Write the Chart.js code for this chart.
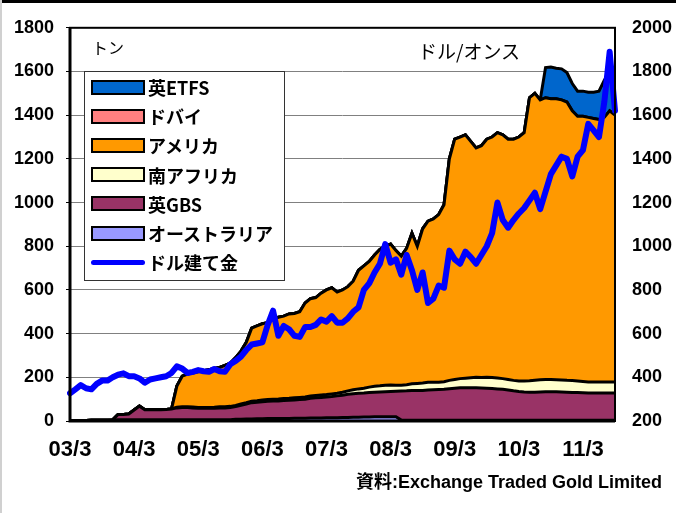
<!DOCTYPE html>
<html>
<head>
<meta charset="utf-8">
<script src="https://cdn.jsdelivr.net/npm/chart.js@4"></script>
<style>
  body { margin: 0; background: #fff; }
  #wrap { position: relative; width: 676px; height: 513px; overflow: hidden; }
  #topbar { position: absolute; left: 0; top: 0; width: 676px; height: 3px; background: #000; }
  #leftbar { position: absolute; left: 0; top: 0; width: 2px; height: 513px; background: #d0d0d0; }
  .note { position: absolute; font-family: "Noto Sans CJK JP", sans-serif; color: #000; white-space: nowrap; }
  #legend { position: absolute; left: 84px; top: 71px; width: 199px; height: 208px; border: 1px solid #333; background: #fff;
            font-family: "Noto Sans CJK JP", sans-serif; font-weight: bold; font-size: 18px; }
  .item { position: absolute; left: 6px; height: 22px; display: flex; align-items: center; }
  .swatch { width: 50px; height: 11px; border: 2px solid #000; margin-right: 3px; }
  .lineswatch { width: 54px; height: 5px; border-radius: 3px; margin-right: 3px; }
</style>
</head>
<body>
<div id="wrap">
  <canvas id="chart" width="676" height="513"></canvas>
  <div id="legend"></div>
  <div class="note" style="left:92px; top:35px; font-size:16px;">トン</div>
  <div class="note" style="left:418px; top:37px; font-size:19px;">ドル/オンス</div>
  <div class="note" style="right:14px; top:467px; font-size:18px; font-weight:bold; font-family:'Liberation Sans','Noto Sans CJK JP',sans-serif;">資料:Exchange Traded Gold Limited</div>
  <div id="topbar"></div>
  <div id="leftbar"></div>
</div>
<script>
// 月次データ 2003/3 〜 2011/9 (トン, ドル/オンス)
const tickLabels = ['03/3', '04/3', '05/3', '06/3', '07/3', '08/3', '09/3', '10/3', '11/3'];

const australia = [
    1, 1, 2, 2, 3, 3, 4, 4, 5, 6,
    6, 6, 6, 6, 6, 6, 6, 6, 6, 6,
    6, 6, 6, 6, 6, 6, 6, 6, 6, 6,
    6, 8, 8, 9, 9, 10, 10, 11, 11, 12,
    12, 12, 13, 13, 13, 14, 14, 14, 15, 15,
    15, 16, 16, 17, 17, 18, 18, 20, 20, 20,
    20, 20, 4, 4, 4, 4, 4, 4, 4, 4,
    4, 4, 4, 4, 4, 4, 4, 4, 4, 4,
    4, 4, 4, 4, 4, 4, 4, 4, 4, 4,
    4, 4, 4, 4, 4, 4, 4, 4, 4, 4,
    4, 4, 4
];
const ukGBS = [
    0, 0, 0, 0, 0, 0, 0, 0, 0, 24,
    24, 26, 44, 62, 46, 46, 46, 46, 47, 49,
    54, 56, 56, 54, 52, 52, 52, 52, 54, 54,
    56, 58, 64, 69, 75, 76, 78, 79, 81, 80,
    82, 83, 83, 85, 87, 90, 92, 94, 95, 97,
    100, 102, 106, 108, 110, 110, 112, 112, 113, 114,
    115, 116, 133, 134, 136, 136, 136, 138, 139, 140,
    141, 144, 146, 148, 148, 148, 148, 147, 146, 145,
    143, 141, 138, 134, 131, 129, 128, 128, 129, 130,
    130, 130, 129, 128, 127, 126, 125, 124, 124, 124,
    124, 124, 124
];
const southAfrica = [
    0, 0, 0, 0, 0, 0, 0, 0, 0, 0,
    0, 0, 0, 0, 0, 0, 0, 0, 0, 0,
    3, 3, 3, 4, 4, 4, 4, 5, 5, 5,
    5, 5, 6, 6, 7, 7, 8, 8, 8, 9,
    9, 9, 10, 10, 10, 10, 11, 11, 11, 12,
    12, 14, 16, 18, 20, 22, 25, 27, 28, 30,
    30, 28, 27, 28, 30, 32, 34, 35, 34, 33,
    35, 38, 40, 42, 44, 46, 48, 48, 50, 50,
    50, 49, 48, 48, 48, 50, 52, 55, 56, 56,
    56, 55, 55, 54, 54, 53, 52, 51, 50, 50,
    50, 50, 50
];
const usa = [
    0, 0, 0, 0, 0, 0, 0, 0, 0, 0,
    0, 0, 0, 0, 0, 0, 0, 0, 0, 0,
    97, 140, 150, 156, 163, 168, 173, 177, 180, 190,
    198, 219, 242, 276, 334, 342, 349, 352, 365, 374,
    377, 386, 386, 392, 430, 446, 448, 466, 479, 486,
    463, 468, 477, 497, 543, 560, 575, 601, 624, 636,
    645, 616, 591, 624, 690, 628, 706, 738, 748, 768,
    810, 1014, 1100, 1106, 1114, 1082, 1050, 1061, 1090, 1101,
    1123, 1116, 1100, 1104, 1117, 1137, 1296, 1313, 1281, 1290,
    1285, 1286, 1282, 1274, 1235, 1212, 1214, 1211, 1207, 1202,
    1212, 1242, 1222
];
const dubai = [
    0, 0, 0, 0, 0, 0, 0, 0, 0, 0,
    0, 0, 0, 0, 0, 0, 0, 0, 0, 0,
    0, 0, 0, 0, 0, 0, 0, 0, 0, 0,
    0, 0, 0, 0, 0, 0, 0, 0, 0, 0,
    0, 0, 0, 0, 0, 0, 0, 0, 0, 0,
    0, 0, 0, 0, 0, 0, 0, 0, 0, 0,
    0, 0, 0, 0, 0, 0, 0, 0, 0, 0,
    0, 0, 0, 0, 0, 0, 0, 0, 0, 0,
    0, 0, 0, 0, 0, 0, 0, 0, 0, 0,
    0, 0, 0, 0, 0, 0, 0, 0, 0, 0,
    0, 0, 0
];
const ukETFS = [
    0, 0, 0, 0, 0, 0, 0, 0, 0, 0,
    0, 0, 0, 0, 0, 0, 0, 0, 0, 0,
    0, 0, 0, 0, 0, 0, 0, 0, 0, 0,
    0, 0, 0, 0, 0, 0, 0, 0, 0, 0,
    0, 0, 0, 0, 0, 0, 0, 0, 0, 0,
    0, 0, 0, 0, 0, 0, 0, 0, 0, 0,
    0, 0, 0, 0, 0, 0, 0, 0, 0, 0,
    0, 0, 0, 0, 0, 0, 0, 0, 0, 0,
    0, 0, 0, 0, 0, 0, 0, 0, 0, 138,
    145, 140, 142, 135, 125, 115, 115, 115, 120, 130,
    170, 180, 200
];
const goldUSD = [
    327, 345, 364, 350, 345, 370, 385, 385, 400, 412,
    418, 405, 405, 395, 375, 390, 395, 400, 405, 420,
    450, 440, 420, 425, 433, 428, 425, 438, 428, 425,
    460, 475, 495, 525, 550, 555, 560, 640, 705, 590,
    635, 620, 590, 585, 630, 630, 640, 665, 655, 680,
    650, 650, 670, 700, 720, 800, 830, 880, 920, 1010,
    925, 940, 870, 960, 890, 800, 880, 740, 760, 820,
    810, 980, 940, 920, 975, 950, 920, 960, 1000, 1060,
    1200, 1120, 1085, 1120, 1150, 1175, 1210, 1245, 1170, 1250,
    1330, 1370, 1410, 1400, 1320, 1410, 1440, 1560, 1530, 1500,
    1660, 1890, 1620
];

// 月ラベル (03/3, 03/4, ...)
const months = [];
for (let i = 0; i < goldUSD.length; i++) {
    const t = 2003 * 12 + 2 + i;
    const yy = String(Math.floor(t / 12) % 100).padStart(2, '0');
    months.push(yy + '/' + (t % 12 + 1));
}

const series = [
    { label: 'オーストラリア', data: australia, color: '#9999FF' },
    { label: '英GBS', data: ukGBS, color: '#993366' },
    { label: '南アフリカ', data: southAfrica, color: '#FFFFCC' },
    { label: 'アメリカ', data: usa, color: '#FF9900' },
    { label: 'ドバイ', data: dubai, color: '#FF8080' },
    { label: '英ETFS', data: ukETFS, color: '#0066CC' }
];
const goldColor = '#0000FF';

const datasets = series.map((s, i) => ({
    label: s.label,
    data: s.data,
    backgroundColor: s.color,
    borderColor: '#000',
    borderWidth: 3,
    pointRadius: 0,
    fill: i === 0 ? 'origin' : '-1',
    yAxisID: 'y',
    order: 1
}));
datasets.push({
    label: 'ドル建て金',
    data: goldUSD,
    borderColor: goldColor,
    borderWidth: 6,
    borderJoinStyle: 'round',
    borderCapStyle: 'round',
    pointRadius: 0,
    fill: false,
    yAxisID: 'y2',
    order: 0
});

// 凡例 (上から 英ETFS ... オーストラリア, ドル建て金)
const legend = document.getElementById('legend');
const legendItems = series.slice().reverse();
legendItems.forEach((s, i) => {
    const el = document.createElement('div');
    el.className = 'item';
    el.style.top = (4 + i * 29.2) + 'px';
    el.innerHTML = '<div class="swatch" style="background:' + s.color + '"></div>' + s.label;
    legend.appendChild(el);
});
const goldItem = document.createElement('div');
goldItem.className = 'item';
goldItem.style.top = (4 + 6 * 29.2) + 'px';
goldItem.innerHTML = '<div class="lineswatch" style="background:' + goldColor + '"></div>ドル建て金';
legend.appendChild(goldItem);

// 枠線
const framePlugin = {
    id: 'frame',
    afterDatasetsDraw(chart) {
        const { ctx, chartArea: a } = chart;
        ctx.save();
        ctx.strokeStyle = '#000';
        ctx.lineWidth = 2;
        ctx.strokeRect(a.left, a.top, a.right - a.left, a.bottom - a.top);
        ctx.lineWidth = 3;
        ctx.beginPath();
        ctx.moveTo(a.left, a.top);
        ctx.lineTo(a.left, a.bottom);
        ctx.lineTo(a.right, a.bottom);
        ctx.stroke();
        ctx.restore();
    }
};

const tickFont = { family: "'Liberation Sans', Arial, sans-serif", size: 18, weight: 'bold' };
const xTickFont = { family: "'Liberation Sans', Arial, sans-serif", size: 22, weight: 'bold' };
const plainNumber = value => String(value);

new Chart(document.getElementById('chart'), {
    type: 'line',
    data: { labels: months, datasets: datasets },
    options: {
        responsive: false,
        animation: false,
        layout: { padding: { top: 25, bottom: 52, left: 0, right: 0 } },
        plugins: { legend: { display: false }, tooltip: { enabled: false } },
        elements: { line: { tension: 0 } },
        scales: {
            x: {
                offset: false,
                grid: { display: false, drawTicks: false },
                border: { display: false },
                ticks: {
                    autoSkip: false,
                    maxRotation: 0,
                    minRotation: 0,
                    padding: 16,
                    color: '#000',
                    font: xTickFont,
                    callback: function (value, index) {
                        const lab = months[index];
                        return tickLabels.includes(lab) ? lab : '';
                    }
                },
                afterFit: s => { s.height = 40; }
            },
            y: {
                stacked: true,
                position: 'left',
                min: 0,
                max: 1800,
                ticks: { stepSize: 200, padding: 12, color: '#000', font: tickFont, callback: plainNumber },
                grid: { color: '#808080', lineWidth: 1, tickLength: 4, tickColor: '#000' },
                border: { display: false },
                afterFit: s => { s.width = 70; }
            },
            y2: {
                position: 'right',
                min: 200,
                max: 2000,
                ticks: { stepSize: 200, padding: 17, color: '#000', font: tickFont, callback: plainNumber },
                grid: { display: false, drawTicks: false },
                border: { display: false },
                afterFit: s => { s.width = 61; }
            }
        }
    },
    plugins: [framePlugin]
});
</script>
</body>
</html>
